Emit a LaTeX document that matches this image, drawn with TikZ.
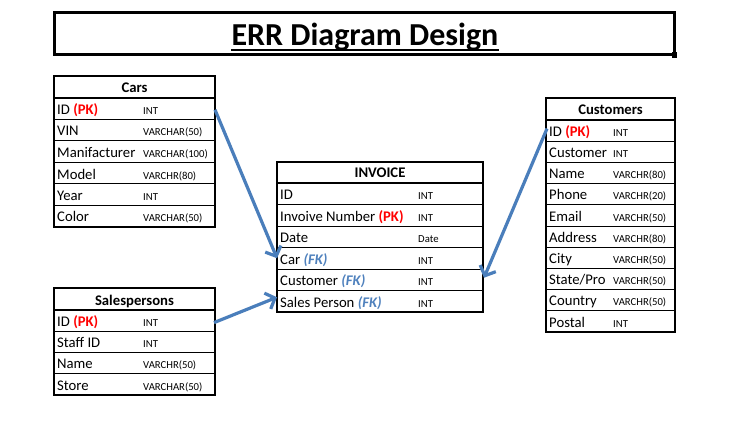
\documentclass[tikz,border=0pt]{standalone}
\usepackage{fontspec}
\setmainfont{Carlito}
\usetikzlibrary{arrows.meta,calc}
\definecolor{pkred}{HTML}{FF0000}
\definecolor{fkblue}{HTML}{4F81BD}
\definecolor{arrblue}{HTML}{4A7EBB}
\newcommand{\pk}{\textcolor{pkred}{\bfseries(PK)}}
\newcommand{\fk}{\textcolor{fkblue}{\bfseries\itshape(FK)}}
\newcommand{\fieldfont}{\fontsize{14.7}{16}\selectfont}
\newcommand{\typefont}{\fontsize{10.7}{12}\selectfont}
\tikzset{
  rowcell/.style={draw, line width=1pt, inner sep=0pt, anchor=west},
  labeltext/.style={font=\fieldfont, inner sep=0pt, anchor=base west},
  typetext/.style={font=\typefont, inner sep=0pt, anchor=base west},
  hdrtext/.style={font=\fieldfont\bfseries, inner sep=0pt, anchor=base},
  frame/.style={line width=2.6pt},
  arr/.style={draw=arrblue, line width=3.2pt, -{Straight Barb[length=8pt,width=17pt]}}
}
% #1 name #2 x0 #3 x1 #4 top #5 header bottom #6 row height #7 type x #8 title #9 rows
\newcommand{\ertable}[9]{%
  \pgfmathsetmacro\tw{#3-#2}%
  \foreach \lab/\typ [count=\i] in {#9} {%
    \pgfmathsetmacro\yc{#5+(\i-0.5)*#6}%
    \pgfmathsetmacro\yb{#5+\i*#6-5}%
    \node[rowcell, minimum width=\tw pt, minimum height=#6 pt] (#1-\i) at (#2,\yc) {};
    \node[labeltext] (#1-\i-l) at (#2+3,\yb) {\lab};
    \node[typetext] (#1-\i-t) at (#7,\yb) {\typ};
    \xdef\lastrow{\i}%
  }
  \pgfmathsetmacro\ybot{#5+\lastrow*#6}%
  \node[hdrtext] (#1-title) at ({(#2+#3)/2},#5-5) {#8};
  \draw[frame] (#2,#4) rectangle (#3,\ybot);
  \draw[frame] (#2,#5) -- (#3,#5);
}
\begin{document}
\begin{tikzpicture}[x=1pt,y=-1pt]
\useasboundingbox (0,0) rectangle (750,433);
% title
\draw[line width=3pt] (54,13) rectangle (674,55);
\fill (671.5,52.5) rectangle (677,58);
\node[font=\fontsize{32}{36}\selectfont\bfseries, inner sep=0pt, anchor=base] (title) at (365,46) {ERR Diagram Design};
\draw[line width=2pt] ($(title.base west)+(0,4)$) -- ($(title.base east)+(0,4)$);
% tables
\ertable{cars}{54}{215}{76}{98}{21.5}{143}{Cars}{%
  {ID \pk}/INT, VIN/VARCHAR(50), Manifacturer/VARCHAR(100), Model/VARCHR(80), Year/INT, Color/VARCHAR(50)}
\ertable{sales}{54}{215}{288}{310}{21.25}{143}{Salespersons}{%
  {ID \pk}/INT, Staff ID/INT, Name/VARCHR(50), Store/VARCHAR(50)}
\ertable{inv}{277}{483}{162}{183}{21.5}{418}{INVOICE}{%
  ID/INT, {Invoive Number \pk}/INT, Date/Date, {Car \fk}/INT, {Customer \fk}/INT, {Sales Person \fk}/INT}
\ertable{cust}{546}{675}{98}{120}{21.2}{613}{Customers}{%
  {ID \pk}/INT, Customer/INT, Name/VARCHR(80), Phone/VARCHR(20), Email/VARCHR(50), Address/VARCHR(80), City/VARCHR(50), {State/Pro}/VARCHR(50), Country/VARCHR(50), Postal/INT}
% connectors
\draw[arr] ($(cars-1.east)+(-1,1)$) -- (inv-4.west);
\draw[arr] ($(cust-1.west)+(1,-2)$) -- ($(inv-5.east)+(0,-2)$);
\draw[arr] ($(sales-1.east)+(-2,2)$) -- ($(inv-6.west)+(0,-4)$);
\end{tikzpicture}
\end{document}
